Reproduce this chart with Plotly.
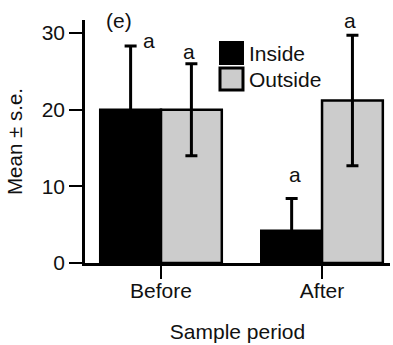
import plotly.graph_objects as go

categories = ["Before", "After"]
inside_mean = [20.0, 4.2]
inside_se = [8.3, 4.2]
outside_mean = [20.0, 21.2]
outside_se = [6.0, 8.5]
inside_letters = ["a", "a"]
outside_letters = ["a", "a"]
series_names = ["Inside", "Outside"]
y_ticks = [0, 10, 20, 30]

FONT = "Liberation Sans, Arial, sans-serif"
TXT = "#111111"
BARGAP = 0.245
half = (1 - BARGAP) / 4

fig = go.Figure()
fig.add_trace(go.Bar(
    x=[0, 1], y=inside_mean, name=series_names[0],
    marker=dict(color="black", line=dict(color="black", width=2.5)),
    error_y=dict(type="data", array=inside_se, visible=True,
                 color="black", thickness=3, width=6),
))
fig.add_trace(go.Bar(
    x=[0, 1], y=outside_mean, name=series_names[1],
    marker=dict(color="#cccccc", line=dict(color="black", width=2.5)),
    error_y=dict(type="data", array=outside_se, visible=True,
                 color="black", thickness=3, width=6),
))

ann = []
in_shift = [(18, 6), (3, 24)]
out_shift = [(-2, 12), (-2, 15)]
for i in range(2):
    ann.append(dict(x=i - half, y=inside_mean[i] + inside_se[i], xref="x", yref="y",
                    text=inside_letters[i], showarrow=False,
                    xshift=in_shift[i][0], yshift=in_shift[i][1],
                    xanchor="center", yanchor="middle",
                    font=dict(size=21, color=TXT, family=FONT)))
    ann.append(dict(x=i + half, y=outside_mean[i] + outside_se[i], xref="x", yref="y",
                    text=outside_letters[i], showarrow=False,
                    xshift=out_shift[i][0], yshift=out_shift[i][1],
                    xanchor="center", yanchor="middle",
                    font=dict(size=21, color=TXT, family=FONT)))

ann.append(dict(x=0.111, y=0.996, xref="paper", yref="paper", text="(e)",
                showarrow=False, xanchor="center", yanchor="middle",
                font=dict(size=21, color=TXT, family=FONT)))
ann.append(dict(x=0.531, y=0.862, xref="paper", yref="paper", text=series_names[0],
                showarrow=False, xanchor="left", yanchor="middle",
                font=dict(size=21, color=TXT, family=FONT)))
ann.append(dict(x=0.531, y=0.755, xref="paper", yref="paper", text=series_names[1],
                showarrow=False, xanchor="left", yanchor="middle",
                font=dict(size=21, color=TXT, family=FONT)))

shapes = [
    dict(type="rect", xref="paper", yref="paper", x0=0.4426, x1=0.518, y0=0.8189, y1=0.9095,
         fillcolor="black", line=dict(color="black", width=2)),
    dict(type="rect", xref="paper", yref="paper", x0=0.4426, x1=0.518, y0=0.7119, y1=0.8025,
         fillcolor="#cccccc", line=dict(color="black", width=3)),
]

fig.update_layout(
    width=393, height=345,
    margin=dict(l=85, r=3, t=20, b=82),
    paper_bgcolor="white", plot_bgcolor="white",
    barmode="group", bargap=BARGAP, bargroupgap=0,
    showlegend=False,
    font=dict(family=FONT, size=21, color=TXT),
    annotations=ann, shapes=shapes,
    xaxis=dict(range=[-0.472, 1.422], tickmode="array", tickvals=[0, 1],
               ticktext=categories, showline=True, linecolor="black", linewidth=2.5,
               ticks="outside", ticklen=13, tickwidth=1.5, tickcolor="black",
               ticklabelstandoff=-6,
               showgrid=False, zeroline=False,
               title=dict(text="Sample period", standoff=24,
                          font=dict(size=21, family=FONT))),
    yaxis=dict(range=[0, 31.7], tickvals=y_ticks, showline=True, linecolor="black",
               linewidth=2.5, ticks="outside", ticklen=13, tickwidth=1.5,
               tickcolor="black", showgrid=False, zeroline=False,
               title=dict(text="Mean ± s.e.", standoff=14,
                          font=dict(size=20.5, family=FONT))),
)

fig.write_html("out.html")
